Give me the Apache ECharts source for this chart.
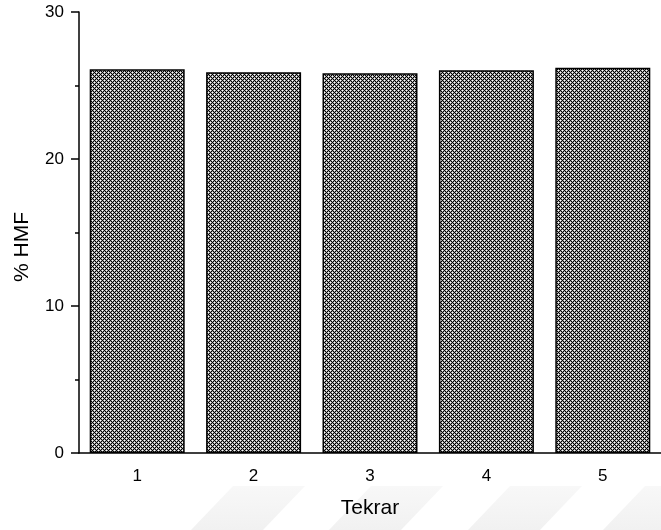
<!DOCTYPE html>
<html>
<head>
<meta charset="utf-8">
<script src="https://cdn.jsdelivr.net/npm/echarts@6/dist/echarts.min.js"></script>
<style>
  html, body { margin: 0; padding: 0; background: #fff; }
  #main { width: 661px; height: 530px; }
</style>
</head>
<body>
<div id="main"></div>
<script type="text/javascript">
// data
var categories = ['1', '2', '3', '4', '5'];
var hmfValues = [26.1, 25.9, 25.83, 26.03, 26.2];
var yTicks = [0, 10, 20, 30];

(function(){
    var myChart = echarts.init(document.getElementById('main'));

    // crosshatch fill for the bars (4x4 tile)
    var tile = document.createElement('canvas');
    tile.width = 4;
    tile.height = 4;
    var ctx = tile.getContext('2d');
    for (var x = 0; x < 4; x++) {
        for (var y = 0; y < 4; y++) {
            var a = (x + y) % 4, b = (x - y + 4) % 4;
            var c;
            if (a === 2 || b === 2) c = '#000';
            else if (a === 0 && b === 0) c = '#fff';
            else c = '#a4a4a4';
            ctx.fillStyle = c;
            ctx.fillRect(x, y, 1, 1);
        }
    }

    var font = 'Liberation Sans, Arial, sans-serif';

    // faint watermark bands at the bottom of the page
    var bands = [233, 371, 510, 645].map(function(left) {
        return {
            type: 'polygon',
            z: -10,
            silent: true,
            shape: { points: [[left, 486], [left + 72, 486], [left + 30, 530], [left - 42, 530]] },
            style: {
                fill: {
                    type: 'linear', x: 0, y: 0, x2: 0, y2: 1,
                    colorStops: [{ offset: 0, color: '#f8f8f8' }, { offset: 1, color: '#f1f1f1' }]
                }
            }
        };
    });

    var option = {
        animation: false,
        backgroundColor: '#fff',
        grid: { left: 79, right: -8, top: 12, bottom: 77 },
        xAxis: [
            {
                type: 'category',
                data: categories,
                name: 'Tekrar',
                nameLocation: 'middle',
                nameGap: 45,
                nameTextStyle: { fontFamily: font, fontSize: 21, color: '#000' },
                axisLine: { lineStyle: { color: '#000', width: 1.5 } },
                axisTick: { alignWithLabel: true, length: 8, lineStyle: { color: '#000', width: 1.5 } },
                axisLabel: { margin: 15, fontFamily: font, fontSize: 17, color: '#000' },
                splitLine: { show: false }
            },
            {
                // short ticks on the category boundaries
                type: 'category',
                data: categories,
                position: 'bottom',
                axisLine: { show: false },
                axisTick: { length: 4, lineStyle: { color: '#000', width: 1.5 } },
                axisLabel: { show: false },
                splitLine: { show: false }
            }
        ],
        yAxis: {
            type: 'value',
            min: yTicks[0],
            max: yTicks[yTicks.length - 1],
            interval: 10,
            axisLine: { show: true, lineStyle: { color: '#000', width: 1.5 } },
            axisTick: { show: true, length: 8, lineStyle: { color: '#000', width: 1.5 } },
            minorTick: { show: true, splitNumber: 2, length: 4, lineStyle: { color: '#000', width: 1.5 } },
            axisLabel: { margin: 15, fontFamily: font, fontSize: 17, color: '#000' },
            splitLine: { show: false }
        },
        graphic: bands.concat([
            {
                type: 'text',
                x: 22,
                y: 247,
                rotation: Math.PI / 2,
                style: {
                    text: '% HMF',
                    fontFamily: font,
                    fontSize: 21,
                    fill: '#000',
                    align: 'center',
                    verticalAlign: 'middle'
                }
            }
        ]),
        series: [
            {
                type: 'bar',
                data: hmfValues,
                barWidth: 95,
                itemStyle: {
                    color: { image: tile, repeat: 'repeat' },
                    borderColor: '#000',
                    borderWidth: 1.5
                }
            }
        ]
    };

    myChart.setOption(option);
})();
</script>
</body>
</html>
